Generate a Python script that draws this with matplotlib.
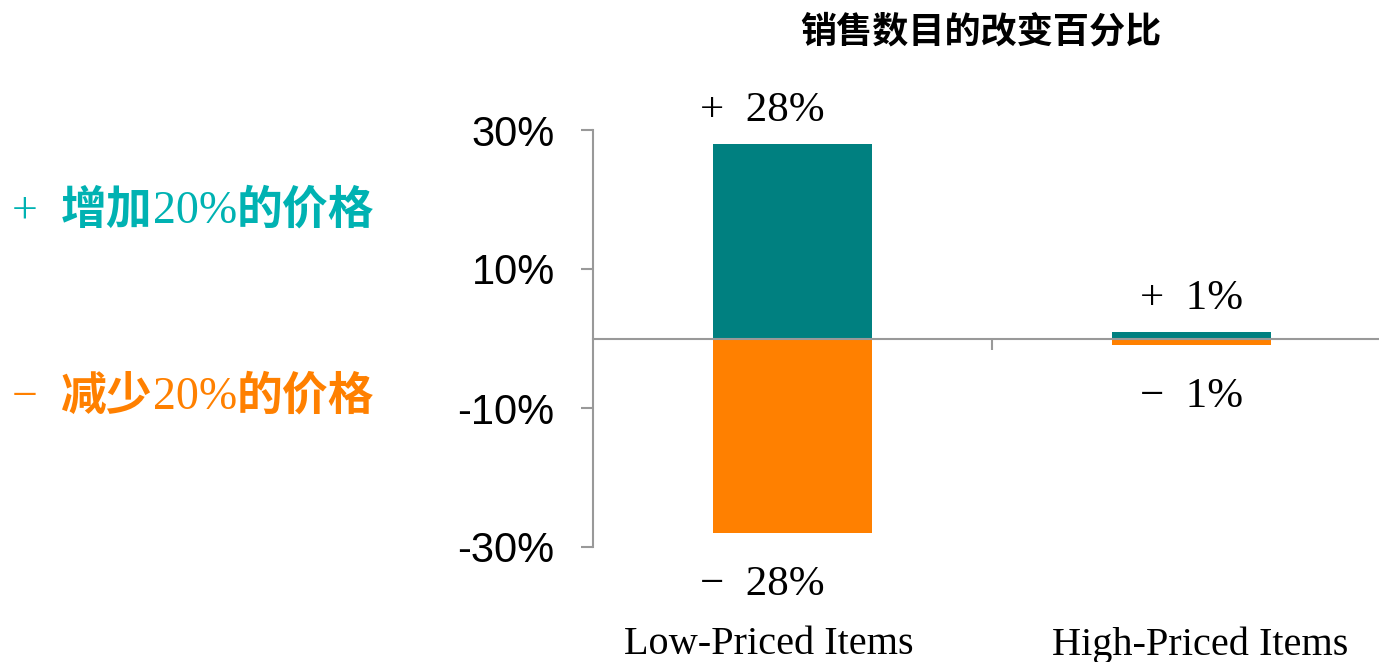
# -*- coding: utf-8 -*-
import matplotlib
matplotlib.use("Agg")
import matplotlib.pyplot as plt
import matplotlib.transforms as mtransforms
import numpy as np

# データ
categories = ["Low-Priced Items", "High-Priced Items"]
increase_vals = [28, 1]     # 20%値上げ時の変化
decrease_vals = [-28, -1]   # 20%値下げ時の変化
y_ticks = [30, 10, -10, -30]
title = "销售数目的改变百分比"
# 凡例テキスト（太字部分と細字部分を分ける）
legend_up = [("+  ", "normal"), ("增加", "bold"), ("20%", "normal"), ("的价格", "bold")]
legend_down = [("−  ", "normal"), ("减少", "bold"), ("20%", "normal"), ("的价格", "bold")]

teal = "#008080"
orange = "#FF8000"
light_teal = "#00B2B2"
grey = "#999999"
cjk = ["Liberation Serif", "Noto Sans CJK SC", "DejaVu Sans"]

fig = plt.figure(figsize=(13.79, 6.62), dpi=100)
ax = fig.add_axes([593 / 1379, 115 / 662, 798 / 1379, 417 / 662])

x = np.arange(len(categories))
width = 0.4
ax.bar(x, increase_vals, width, color=teal, zorder=2)
ax.bar(x, decrease_vals, width, color=orange, zorder=2)

ax.set_xlim(-0.5, 1.5)
ax.set_ylim(-30, 30)

# 軸の見た目
for side in ["top", "right"]:
    ax.spines[side].set_visible(False)
ax.spines["left"].set_color(grey)
ax.spines["left"].set_linewidth(1.5)
ax.spines["bottom"].set_position(("data", 0))
ax.spines["bottom"].set_color(grey)
ax.spines["bottom"].set_linewidth(1.5)

ax.set_yticks(y_ticks)
ax.set_yticklabels(["{0}%".format(v) for v in y_ticks], fontsize=30,
                   family="Liberation Sans")
ax.tick_params(axis="y", direction="out", length=8.6, width=1.5,
               color=grey, pad=19)
ax.set_xticks([0.5])
ax.set_xticklabels([""])
ax.tick_params(axis="x", direction="out", length=8, width=1.5, color=grey)

# 値ラベル
label_dx = [-30, 0]
for i in range(len(categories)):
    ax.annotate("+  {0}%".format(increase_vals[i]), (x[i], increase_vals[i]),
                xytext=(label_dx[i], 14), textcoords="offset pixels",
                ha="center", va="bottom", fontsize=31, family="Liberation Serif")
    ax.annotate("−  {0}%".format(abs(decrease_vals[i])), (x[i], decrease_vals[i]),
                xytext=(label_dx[i], -32), textcoords="offset pixels",
                ha="center", va="top", fontsize=31, family="Liberation Serif")

# カテゴリラベル（図の下端）
trans = mtransforms.blended_transform_factory(ax.transData, ax.transAxes)
cat_dx = [-0.059, 0.022]
for i, name in enumerate(categories):
    ax.text(x[i] + cat_dx[i], -0.235, name, transform=trans,
            ha="center", va="center", fontsize=29, family="Liberation Serif")

# タイトル
fig.text(981 / 1379, 1 - 32 / 662, title, ha="center", va="center",
         fontsize=26, fontweight="bold", family=["Noto Sans CJK SC", "DejaVu Sans"])

# 左側の凡例テキスト（前の文字列の右端に続けて配置）
for pieces, y, color in [(legend_up, 212, light_teal), (legend_down, 398, orange)]:
    prev = fig.text(12 / 1379, 1 - y / 662, pieces[0][0], ha="left", va="center",
                    fontsize=33, fontweight=pieces[0][1], color=color, family=cjk)
    for s, w in pieces[1:]:
        prev = ax.annotate(s, xy=(1, 0.5), xycoords=prev, ha="left", va="center",
                           fontsize=33, fontweight=w, color=color, family=cjk,
                           annotation_clip=False)

fig.savefig("out.png", dpi=100)
